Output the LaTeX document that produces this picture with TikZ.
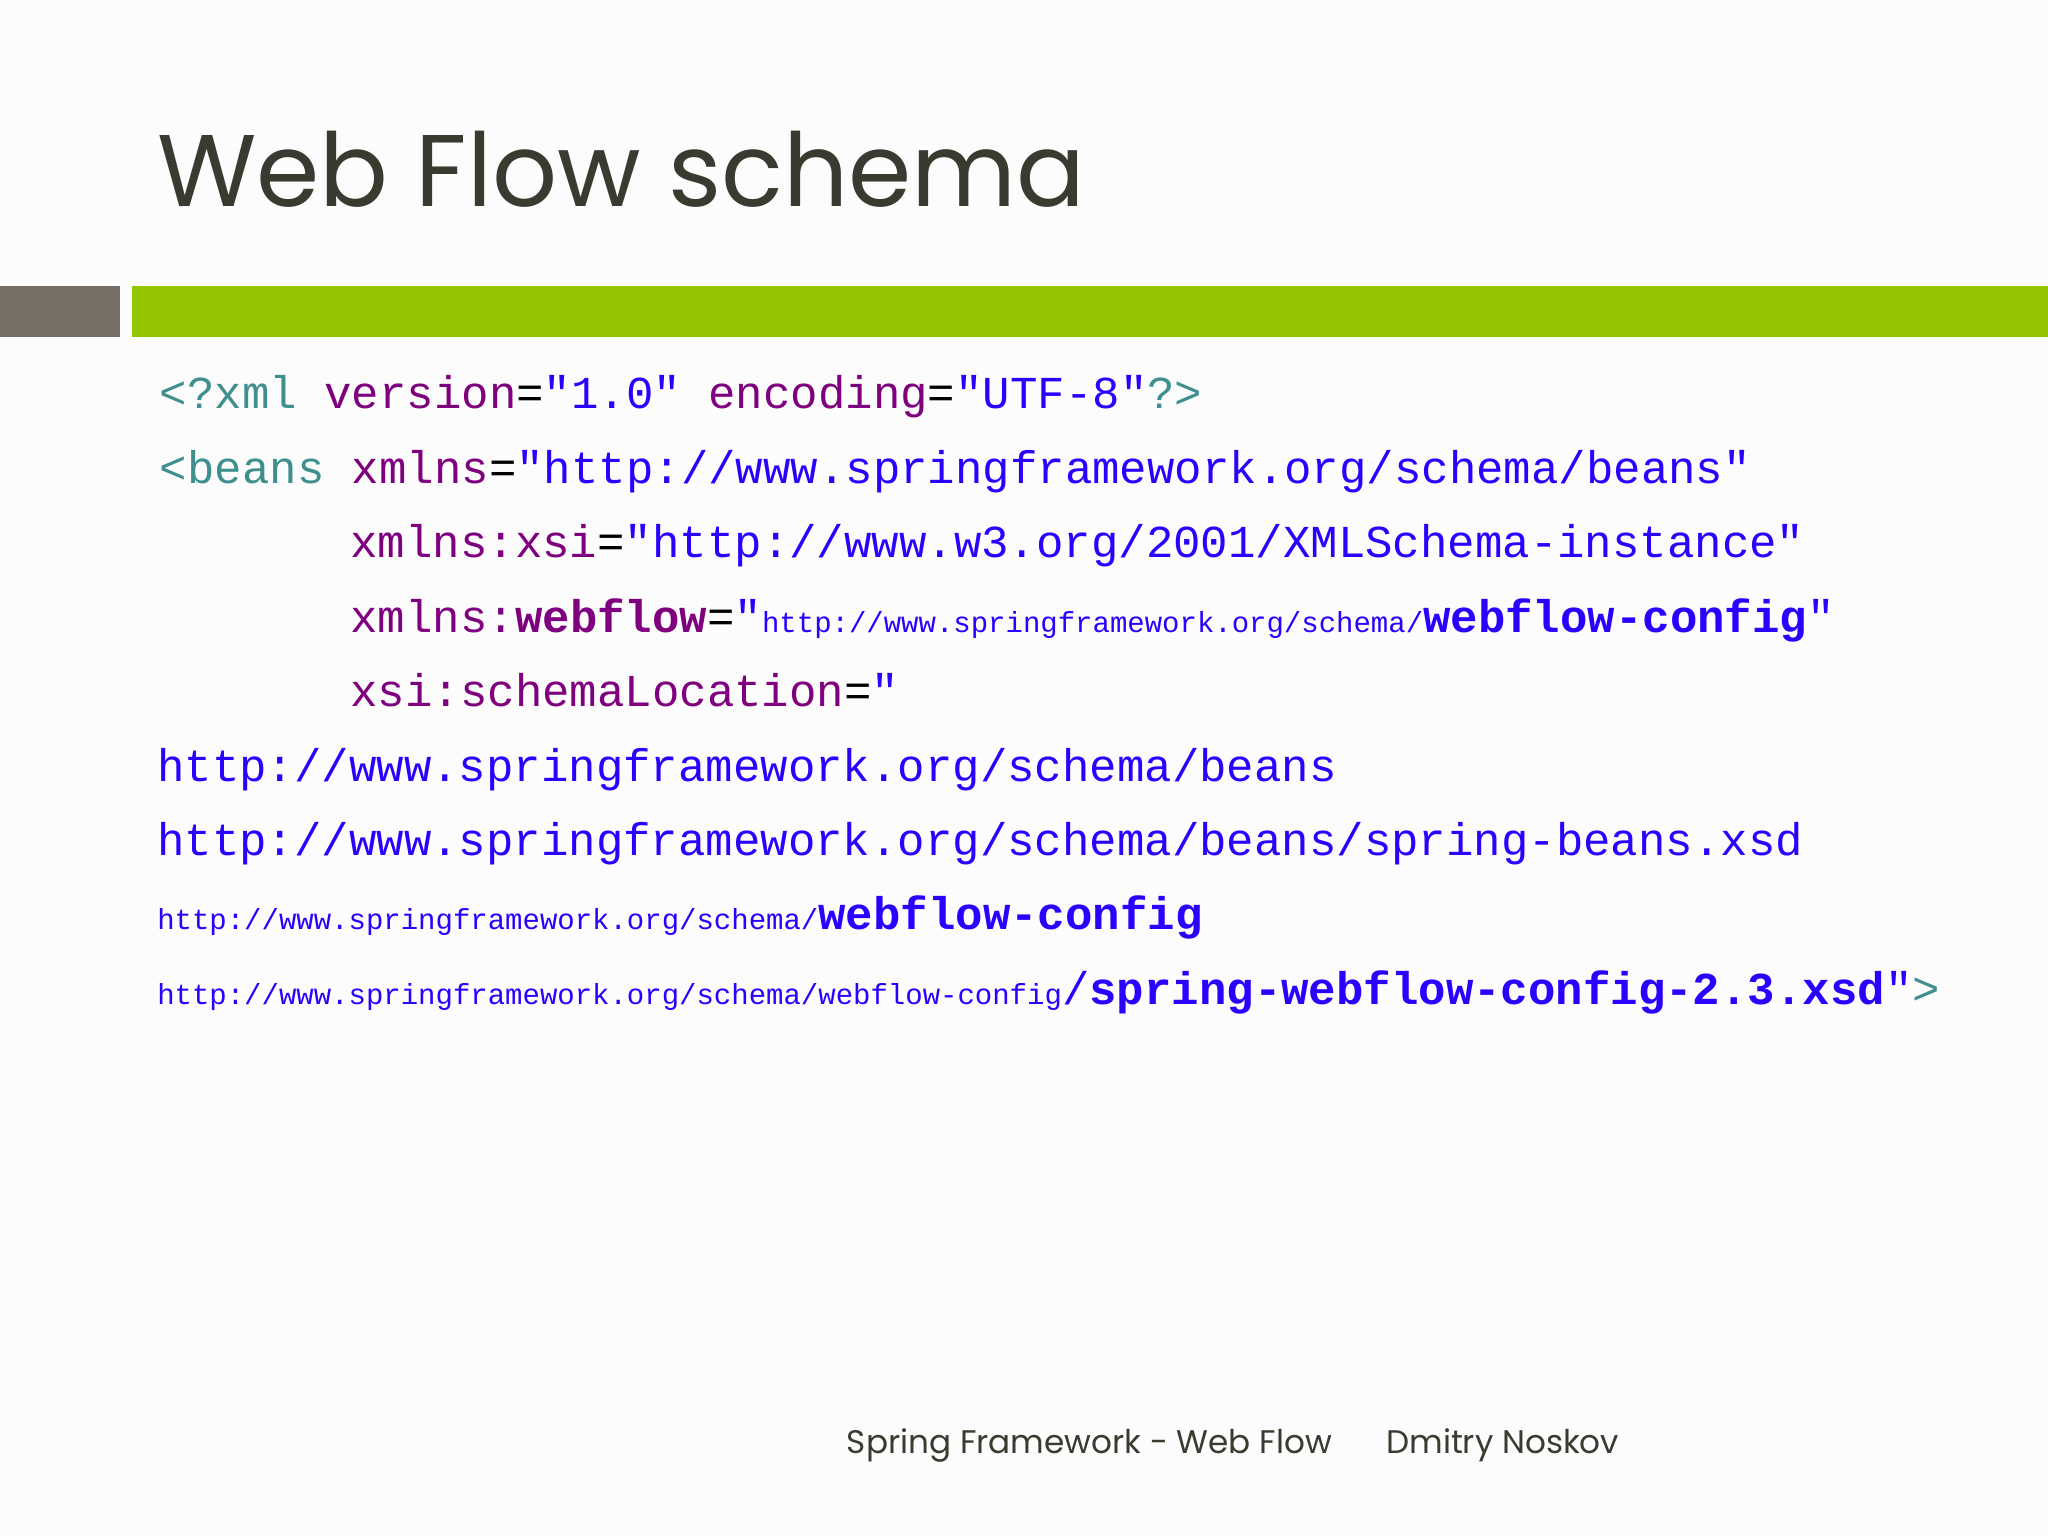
\documentclass[tikz,border=0pt]{standalone}
\usepackage{fontspec}
\setmainfont{Poppins}
\newfontfamily\cmono{Liberation Mono}
\definecolor{tealc}{HTML}{3F8F8F}
\definecolor{purc}{HTML}{7F007F}
\definecolor{bluc}{HTML}{2A00FF}
\definecolor{greenbar}{HTML}{93C500}
\definecolor{graybar}{HTML}{776F65}
\definecolor{titlec}{HTML}{3A3A30}
\newcommand{\cbig}{\fontsize{17.5}{17.5}\selectfont}
\newcommand{\csml}{\fontsize{11.1}{11}\selectfont}
\newcommand{\xT}[1]{\textcolor{tealc}{#1}}
\newcommand{\xP}[1]{\textcolor{purc}{#1}}
\newcommand{\xB}[1]{\textcolor{bluc}{#1}}
\begin{document}
\begin{tikzpicture}[x=0.5pt,y=-0.5pt,
  code/.style={anchor=base west,inner sep=0pt,font=\cmono\cbig},
  foot/.style={anchor=base west,inner sep=0pt,font=\fontsize{12.5}{13}\selectfont,text=titlec}]
\fill[white!99!black] (0,0) rectangle (1568,1176);
\useasboundingbox (0,0) rectangle (1568,1176);
\node[anchor=base west,inner sep=0pt,font=\fontsize{39}{39}\selectfont,text=titlec] (title) at (120,158) {Web Flow schema};
\fill[graybar] (0,219) rectangle (92,258);
\fill[greenbar] (101,219) rectangle (1568,258);
\node[code] (l1) at (122,313) {\xT{<?xml} \xP{version}=\xB{"1.0"} \xP{encoding}=\xB{"UTF-8"}\xT{?>}};
\node[code] (l2) at (122,370) {\xT{<beans} \xP{xmlns}=\xB{"http://www.springframework.org/schema/beans"}};
\node[code] (l3) at (268,427) {\xP{xmlns:xsi}=\xB{"http://www.w3.org/2001/XMLSchema-instance"}};
\node[code] (l4) at (268,484) {\xP{xmlns:\textbf{webflow}}=\xB{"{\csml http://www.springframework.org/schema/}\textbf{webflow-config}"}};
\node[code] (l5) at (268,541) {\xP{xsi:schemaLocation}=\xB{"}};
\node[code] (l6) at (120,598) {\xB{http://www.springframework.org/schema/beans}};
\node[code] (l7) at (120,655) {\xB{http://www.springframework.org/schema/beans/spring-beans.xsd}};
\node[code] (l8) at (120,712) {\xB{{\csml http://www.springframework.org/schema/}\textbf{webflow-config}}};
\node[code] (l9) at (120,769) {\xB{{\csml http://www.springframework.org/schema/webflow-config}/\textbf{spring-webflow-config-2.3.xsd}"}\xT{>}};
\node[foot] (f1) at (648,1113) {Spring Framework - Web Flow};
\node[foot] (f2) at (1061,1113) {Dmitry Noskov};
\end{tikzpicture}
\end{document}
